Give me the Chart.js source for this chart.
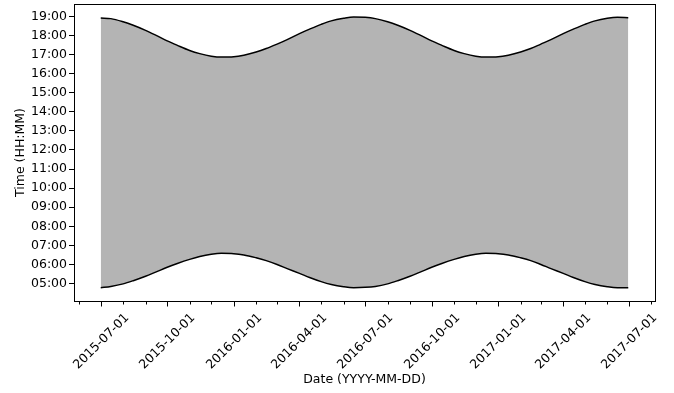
<!DOCTYPE html>
<html>
<head>
<meta charset="utf-8">
<script src="https://cdn.jsdelivr.net/npm/chart.js@4"></script>
<style>
html,body{margin:0;padding:0;background:#fff;}
#wrap{width:674px;height:393px;position:relative;}
</style>
</head>
<body>
<div id="wrap"><canvas id="chart" width="674" height="393"></canvas></div>
<script>
// dates sampled on the 1st and 15th of each month
const dates=[
'2015-07-01','2015-07-15','2015-08-01','2015-08-15','2015-09-01','2015-09-15',
'2015-10-01','2015-10-15','2015-11-01','2015-11-15','2015-12-01','2015-12-15',
'2016-01-01','2016-01-15','2016-02-01','2016-02-15','2016-03-01','2016-03-15',
'2016-04-01','2016-04-15','2016-05-01','2016-05-15','2016-06-01','2016-06-15',
'2016-07-01','2016-07-15','2016-08-01','2016-08-15','2016-09-01','2016-09-15',
'2016-10-01','2016-10-15','2016-11-01','2016-11-15','2016-12-01','2016-12-15',
'2017-01-01','2017-01-15','2017-02-01','2017-02-15','2017-03-01','2017-03-15',
'2017-04-01','2017-04-15','2017-05-01','2017-05-15','2017-06-01','2017-06-15',
'2017-06-30'
];
const sunrise=[
'04:47','04:51','04:59','05:09','05:23','05:36','05:51','06:03','06:16','06:25','06:32','06:35',
'06:34','06:30','06:21','06:12','06:00','05:47','05:32','05:19','05:06','04:57','04:50','04:47',
'04:48','04:51','04:59','05:09','05:23','05:36','05:51','06:03','06:16','06:25','06:32','06:35',
'06:34','06:30','06:21','06:12','06:00','05:47','05:32','05:19','05:06','04:57','04:50','04:47',
'04:47'
];
const sunset=[
'18:55','18:53','18:43','18:32','18:16','18:01','17:43','17:29','17:13','17:03','16:55','16:52',
'16:53','16:58','17:08','17:19','17:33','17:47','18:06','18:20','18:35','18:46','18:54','18:58',
'18:57','18:53','18:43','18:32','18:16','18:01','17:43','17:29','17:13','17:03','16:55','16:52',
'16:53','16:58','17:08','17:19','17:33','17:47','18:06','18:20','18:35','18:46','18:54','18:57',
'18:56'
];
const hourTicks=[5,6,7,8,9,10,11,12,13,14,15,16,17,18,19];
const xMin='2015-05-25';
const xMax='2017-08-06';
const yMin=4.085;
const yMax=19.65;

function toMs(d){const p=d.split('-');return Date.UTC(+p[0],+p[1]-1,+p[2]);}
function toHours(t){const p=t.split(':');return +p[0]+(+p[1])/60;}
function pad(n){return (n<10?'0':'')+n;}

const riseData=dates.map((d,i)=>({x:toMs(d),y:toHours(sunrise[i])}));
const setData=dates.map((d,i)=>({x:toMs(d),y:toHours(sunset[i])}));

// one tick per month, labels every 3 months
const monthTicks=[];
for(let y=2015;y<=2017;y++){
for(let m=0;m<12;m++){
const t=Date.UTC(y,m,1);
if(t>=toMs(xMin)&&t<=toMs(xMax)) monthTicks.push(t);
}
}

const FONT='12.5px "DejaVu Sans", sans-serif';

// frame, x tick marks and rotated date labels centred under ticks (matplotlib style)
const frame={
id:'frame',
afterDraw(chart){
const a=chart.chartArea,c=chart.ctx,xs=chart.scales.x;
c.save();
c.strokeStyle='#000';
c.lineWidth=1;
c.strokeRect(Math.round(a.left)+0.5,Math.round(a.top)+0.5,Math.round(a.right-a.left),Math.round(a.bottom-a.top));
c.font=FONT;
c.fillStyle='#000';
const b=Math.round(a.bottom)+0.5;
monthTicks.forEach(v=>{
const d=new Date(v);
const m=d.getUTCMonth();
const major=m%3===0;
const px=Math.round(xs.getPixelForValue(v))+0.5;
c.beginPath();
c.moveTo(px,b);
c.lineTo(px,b+(major?5:3));
c.stroke();
if(!major) return;
const txt=d.getUTCFullYear()+'-'+pad(m+1)+'-01';
const w=c.measureText(txt).width;
const h=12.5;
const side=(w+h)*Math.SQRT1_2;
c.save();
c.translate(px,b+5+5+side/2);
c.rotate(-Math.PI/4);
c.textAlign='center';
c.textBaseline='middle';
c.fillText(txt,0,0);
c.restore();
});
c.textAlign='center';
c.textBaseline='middle';
c.fillText('Date (YYYY-MM-DD)',(a.left+a.right)/2,380);
c.restore();
}
};

new Chart(document.getElementById('chart'),{
type:'line',
data:{
datasets:[
{
data:riseData,
borderColor:'#000',
borderWidth:1.5,
pointRadius:0,
cubicInterpolationMode:'monotone',
fill:false
},
{
data:setData,
borderColor:'#000',
borderWidth:1.5,
pointRadius:0,
cubicInterpolationMode:'monotone',
fill:'-1',
backgroundColor:'rgb(180,180,180)'
}
]
},
options:{
responsive:false,
animation:false,
devicePixelRatio:1,
layout:{padding:{left:13,right:19,top:4,bottom:0}},
plugins:{legend:{display:false},tooltip:{enabled:false}},
scales:{
x:{
type:'linear',
min:toMs(xMin),
max:toMs(xMax),
afterBuildTicks:s=>{s.ticks=monthTicks.map(v=>({value:v}));},
afterFit:s=>{s.height=92;s.paddingLeft=0;s.paddingRight=0;},
grid:{display:false},
border:{display:false},
ticks:{display:false}
},
y:{
type:'linear',
min:yMin,
max:yMax,
afterBuildTicks:s=>{s.ticks=hourTicks.map(v=>({value:v}));},
afterFit:s=>{s.width=61;s.paddingTop=0;s.paddingBottom=0;},
grid:{drawOnChartArea:false,tickLength:5,color:'#000'},
border:{color:'#000',width:1},
ticks:{
color:'#000',
font:{family:'"DejaVu Sans", sans-serif',size:12.5},
padding:2,
callback:v=>pad(v)+':00'
},
title:{display:true,text:'Time (HH:MM)',color:'#000',font:{family:'"DejaVu Sans", sans-serif',size:12.5},padding:{top:0,bottom:0}}
}
}
},
plugins:[frame]
});
</script>
</body>
</html>
